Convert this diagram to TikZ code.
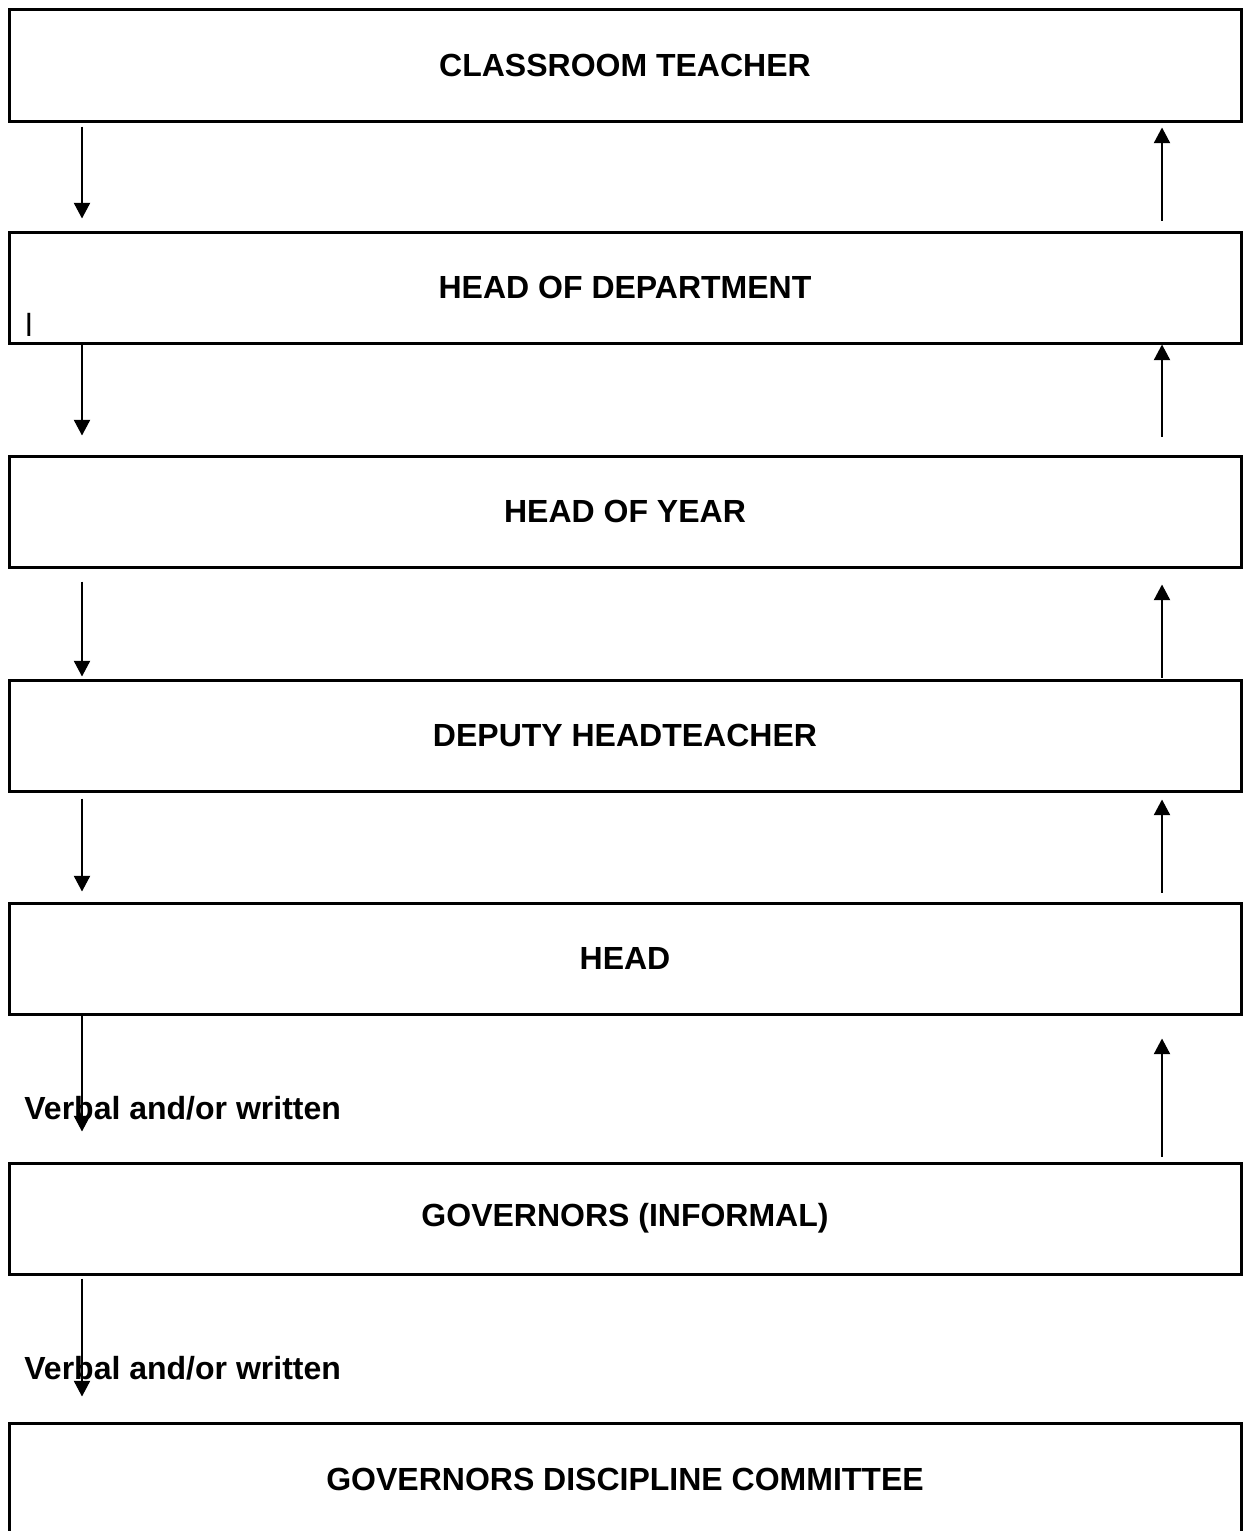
\documentclass[tikz,border=0pt]{standalone}
\usepackage{fontspec}
\setmainfont{Liberation Sans}
\usetikzlibrary{arrows.meta}

\begin{document}
\begin{tikzpicture}[x=0.5pt,y=-0.5pt,>={Triangle[length=7.8pt,width=8pt]},
    box node/.style={draw,rectangle,line width=1.5pt,minimum width=616pt,minimum height=56pt,inner sep=0pt,font=\fontsize{16}{19}\selectfont\bfseries},
    note/.style={anchor=base west,inner sep=0pt,font=\fontsize{16}{19}\selectfont\bfseries},
    flow/.style={->,line width=1pt}]
    \useasboundingbox (0,0) rectangle (1242,1531);

    \node[box node] (b1) at (625,65) {CLASSROOM TEACHER};
    \node[box node,minimum height=55.5pt] (b2) at (625,287.5) {HEAD OF DEPARTMENT};
    \node[box node,minimum height=55.5pt] (b3) at (625,511.5) {HEAD OF YEAR};
    \node[box node,minimum height=55.5pt] (b4) at (625,735.5) {DEPUTY HEADTEACHER};
    \node[box node,minimum height=55.5pt] (b5) at (625,958.5) {HEAD};
    \node[box node,minimum height=55.5pt] (b6) at (625,1218.5) {GOVERNORS (INFORMAL)};
    \node[box node] (b7) at (625,1479) {GOVERNORS DISCIPLINE COMMITTEE};

    \node[anchor=base west,inner sep=0pt,font=\fontsize{16}{19}\selectfont] (stray) at (25,336) {l};
    \node[note] (v1) at (24,1119) {Verbal and/or written};
    \node[note] (v2) at (24,1379) {Verbal and/or written};

    \coordinate (lx) at (82,0);
    \coordinate (rx) at (1162,0);

    % down the left side
    \draw[flow,shorten <=2pt,shorten >=6pt] (b1.south -| lx) -- (b2.north -| lx);
    \draw[flow,shorten <=0pt,shorten >=9.5pt] (b2.south -| lx) -- (b3.north -| lx);
    \draw[flow,shorten <=6.5pt,shorten >=1pt] (b3.south -| lx) -- (b4.north -| lx);
    \draw[flow,shorten <=3pt,shorten >=5pt] (b4.south -| lx) -- (b5.north -| lx);
    \draw[flow,shorten <=0pt,shorten >=15pt] (b5.south -| lx) -- (b6.north -| lx);
    \draw[flow,shorten <=1.5pt,shorten >=12.5pt] (b6.south -| lx) -- (b7.north -| lx);

    % back up the right side
    \draw[flow,shorten <=5pt,shorten >=2.5pt] (b2.north -| rx) -- (b1.south -| rx);
    \draw[flow,shorten <=9pt,shorten >=0pt] (b3.north -| rx) -- (b2.south -| rx);
    \draw[flow,shorten <=0.5pt,shorten >=8pt] (b4.north -| rx) -- (b3.south -| rx);
    \draw[flow,shorten <=4.5pt,shorten >=3.5pt] (b5.north -| rx) -- (b4.south -| rx);
    \draw[flow,shorten <=2.5pt,shorten >=11.5pt] (b6.north -| rx) -- (b5.south -| rx);
\end{tikzpicture}
\end{document}
